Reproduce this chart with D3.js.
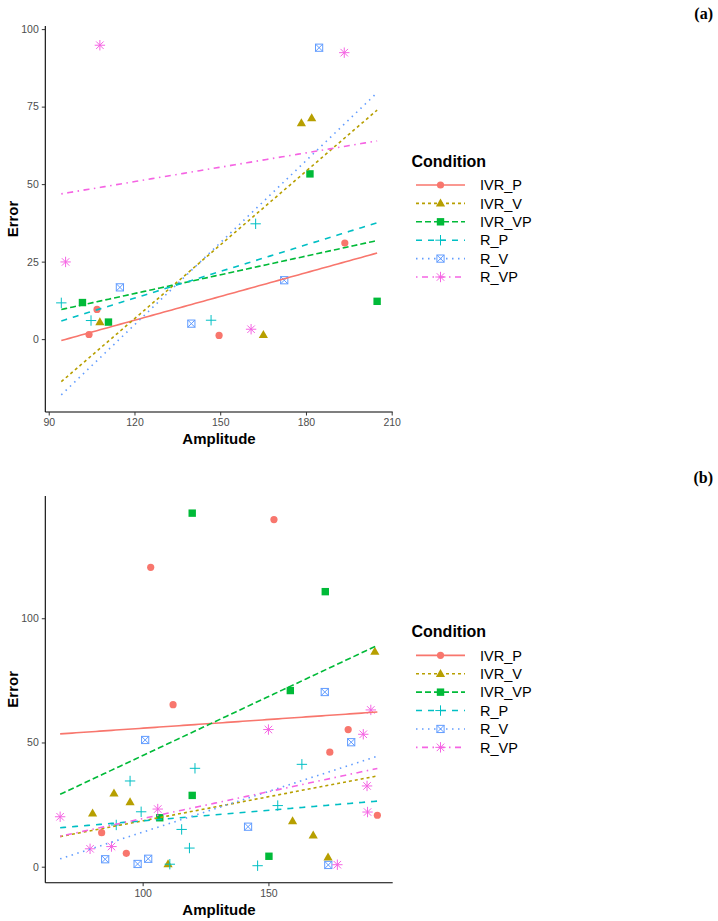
<!DOCTYPE html>
<html>
<head>
<meta charset="utf-8">
<script src="https://cdn.jsdelivr.net/npm/d3@7"></script>
<style>
  html, body { margin: 0; padding: 0; background: #fff; }
  svg { display: block; }
  text { font-family: "Liberation Sans", Arial, sans-serif; }
</style>
</head>
<body>
<svg id="chart" width="718" height="921"></svg>
<script>
// ---------- categories & styles ----------
const conditions = ["IVR_P", "IVR_V", "IVR_VP", "R_P", "R_V", "R_VP"];
const condColors = ["#F8766D", "#B79F00", "#00BA38", "#00BFC4", "#619CFF", "#F564E3"];
const condShapes = ["circle", "triangle", "square", "plus", "squarecross", "asterisk"];
const condDash = ["", "3,3", "6,3", "6,6", "1.5,4.5", "1.5,4.5,6,4.5"];

// ---------- panel (a) data ----------
const aIVR_P_amp  = [104.1, 106.9, 149.6, 193.6];
const aIVR_P_err  = [1.5, 9.6, 1.2, 31.0];
const aIVR_V_amp  = [107.9, 165.1, 178.4, 182.0];
const aIVR_V_err  = [5.5, 1.4, 69.7, 71.3];
const aIVR_VP_amp = [101.8, 110.9, 181.4, 204.9];
const aIVR_VP_err = [11.8, 5.5, 53.3, 12.2];
const aR_P_amp    = [94.4, 104.8, 146.8, 162.4];
const aR_P_err    = [11.7, 6.0, 6.1, 37.2];
const aR_V_amp    = [114.9, 139.9, 172.4, 184.6];
const aR_V_err    = [16.7, 5.0, 19.0, 94.0];
const aR_VP_amp   = [95.9, 107.9, 160.8, 193.4];
const aR_VP_err   = [24.9, 94.8, 3.2, 92.4];

// ---------- panel (b) data ----------
const bIVR_P_amp  = [83.7, 93.5, 103.2, 112.1, 152.2, 174.4, 181.7, 193.3];
const bIVR_P_err  = [13.7, 5.4, 120.5, 65.2, 139.7, 46.1, 55.2, 20.7];
const bIVR_V_amp  = [80.1, 88.6, 95.0, 110.1, 159.6, 167.8, 173.7, 192.3];
const bIVR_V_err  = [21.5, 29.5, 26.0, 1.1, 18.4, 12.6, 3.8, 86.6];
const bIVR_VP_amp = [106.8, 119.7, 119.7, 150.2, 158.7, 172.6];
const bIVR_VP_err = [19.7, 28.7, 142.3, 4.2, 70.9, 110.7];
const bR_P_amp    = [89.5, 95.0, 99.4, 110.8, 115.5, 118.6, 120.8, 145.7, 153.7, 163.3];
const bR_P_err    = [16.8, 34.5, 22.1, 1.0, 15.0, 7.5, 39.6, 0.4, 24.6, 41.2];
const bR_V_amp    = [85.1, 98.0, 101.0, 102.2, 141.9, 172.4, 173.8, 182.9];
const bR_V_err    = [3.0, 1.1, 51.0, 3.2, 16.1, 70.3, 0.7, 50.1];
const bR_VP_amp   = [67.2, 79.1, 87.6, 106.0, 150.0, 177.4, 187.7, 189.2, 189.4, 190.7];
const bR_VP_err   = [20.1, 7.2, 8.1, 23.2, 55.2, 0.8, 53.3, 32.5, 22.0, 63.1];

// ---------- ticks ----------
const aXTicks = [90, 120, 150, 180, 210];
const aYTicks = [0, 25, 50, 75, 100];
const bXTicks = [100, 150];
const bYTicks = [0, 50, 100];

// ---------- layout ----------
const panels = [
  {
    label: "(a)", labelY: 19,
    series: [[aIVR_P_amp, aIVR_P_err], [aIVR_V_amp, aIVR_V_err], [aIVR_VP_amp, aIVR_VP_err],
             [aR_P_amp, aR_P_err], [aR_V_amp, aR_V_err], [aR_VP_amp, aR_VP_err]],
    xDomain: [88.8, 210.35], yDomain: [-23.5, 101],
    top: 26, bottom: 412, xTicks: aXTicks, yTicks: aYTicks
  },
  {
    label: "(b)", labelY: 483,
    series: [[bIVR_P_amp, bIVR_P_err], [bIVR_V_amp, bIVR_V_err], [bIVR_VP_amp, bIVR_VP_err],
             [bR_P_amp, bR_P_err], [bR_V_amp, bR_V_err], [bR_VP_amp, bR_VP_err]],
    xDomain: [61.3, 199.4], yDomain: [-6.44, 149.2],
    top: 496, bottom: 882.7, xTicks: bXTicks, yTicks: bYTicks
  }
];
const left = 45.3, right = 392.7;

const svg = d3.select("#chart");
svg.append("rect").attr("width", 718).attr("height", 921).attr("fill", "#fff");

function drawShape(g, shape, color, x, y) {
  if (shape === "circle") {
    g.append("circle").attr("cx", x).attr("cy", y).attr("r", 3.6).attr("fill", color);
  } else if (shape === "triangle") {
    const s = 9.2, h = s * Math.sqrt(3) / 2;
    g.append("path").attr("d", `M${x},${y - h * 0.6}L${x + s / 2},${y + h * 0.4}L${x - s / 2},${y + h * 0.4}Z`).attr("fill", color);
  } else if (shape === "square") {
    g.append("rect").attr("x", x - 3.7).attr("y", y - 3.7).attr("width", 7.4).attr("height", 7.4).attr("fill", color);
  } else if (shape === "plus") {
    const r = 5.2;
    g.append("path").attr("d", `M${x - r},${y}H${x + r}M${x},${y - r}V${y + r}`).attr("stroke", color).attr("stroke-width", 1).attr("fill", "none");
  } else if (shape === "squarecross") {
    const r = 3.6;
    g.append("rect").attr("x", x - r).attr("y", y - r).attr("width", 2 * r).attr("height", 2 * r)
      .attr("fill", "none").attr("stroke", color).attr("stroke-width", 1);
    g.append("path").attr("d", `M${x - r},${y - r}L${x + r},${y + r}M${x - r},${y + r}L${x + r},${y - r}`)
      .attr("stroke", color).attr("stroke-width", 1);
  } else if (shape === "asterisk") {
    const r = 5.2, d = r * 0.72;
    g.append("path").attr("d", `M${x - r},${y}H${x + r}M${x},${y - r}V${y + r}M${x - d},${y - d}L${x + d},${y + d}M${x - d},${y + d}L${x + d},${y - d}`)
      .attr("stroke", color).attr("stroke-width", 1).attr("fill", "none");
  }
}

function linFit(xs, ys) {
  const mx = d3.mean(xs), my = d3.mean(ys);
  let sxy = 0, sxx = 0;
  xs.forEach((x, i) => { sxy += (x - mx) * (ys[i] - my); sxx += (x - mx) * (x - mx); });
  const b = sxy / sxx;
  return x => my + b * (x - mx);
}

panels.forEach(p => {
  const x = d3.scaleLinear().domain(p.xDomain).range([left, right]);
  const y = d3.scaleLinear().domain(p.yDomain).range([p.bottom, p.top]);
  const g = svg.append("g");

  // axes
  const xAxis = g.append("g").attr("transform", `translate(0,${p.bottom})`)
    .call(d3.axisBottom(x).tickValues(p.xTicks).tickSize(3.5).tickSizeOuter(0).tickPadding(3));
  const yAxis = g.append("g").attr("transform", `translate(${left},0)`)
    .call(d3.axisLeft(y).tickValues(p.yTicks).tickSize(3.5).tickSizeOuter(0).tickPadding(3));
  [xAxis, yAxis].forEach(a => {
    a.select(".domain").attr("stroke", "#000").attr("stroke-width", 1.1);
    a.selectAll(".tick line").attr("stroke", "#333").attr("stroke-width", 1);
    a.selectAll(".tick text").attr("fill", "#4D4D4D").style("font-size", "10.5px")
      .style("font-family", "'Liberation Sans', Arial, sans-serif");
  });
  yAxis.select(".domain").attr("d", `M0,${p.top}V${p.bottom}`);
  xAxis.select(".domain").attr("d", `M${left},0H${right}`);

  // points
  const pg = g.append("g");
  p.series.forEach((s, i) => {
    s[0].forEach((v, j) => drawShape(pg, condShapes[i], condColors[i], x(v), y(s[1][j])));
  });

  // regression lines over full data range
  const allX = p.series.flatMap(s => s[0]);
  const x0 = d3.min(allX), x1 = d3.max(allX);
  const lg = g.append("g");
  p.series.forEach((s, i) => {
    const f = linFit(s[0], s[1]);
    const pts = d3.range(0, 81).map(k => x0 + (x1 - x0) * k / 80);
    lg.append("path")
      .attr("d", d3.line().x(d => x(d)).y(d => y(f(d)))(pts))
      .attr("fill", "none").attr("stroke", condColors[i]).attr("stroke-width", 1.6)
      .attr("stroke-dasharray", condDash[i] || null);
  });

  // axis titles
  g.append("text").attr("x", (left + right) / 2).attr("y", p.bottom + 32)
    .attr("text-anchor", "middle").style("font-weight", "bold").style("font-size", "15px").attr("fill", "#000")
    .text("Amplitude");
  const cy = (p.top + p.bottom) / 2;
  g.append("text").attr("transform", `translate(18,${cy}) rotate(-90)`)
    .attr("text-anchor", "middle").style("font-weight", "bold").style("font-size", "15px").attr("fill", "#000")
    .text("Error");

  // legend
  const legTop = cy - 58;
  const leg = g.append("g");
  leg.append("text").attr("x", 411.5).attr("y", legTop + 5.5).style("font-weight", "bold").style("font-size", "16px")
    .attr("fill", "#000").text("Condition");
  conditions.forEach((c, i) => {
    const ry = legTop + 24 + i * 18.4;
    leg.append("line").attr("x1", 416).attr("x2", 465).attr("y1", ry).attr("y2", ry)
      .attr("stroke", condColors[i]).attr("stroke-width", 1.6).attr("stroke-dasharray", condDash[i] || null);
    drawShape(leg, condShapes[i], condColors[i], 440.5, ry);
    leg.append("text").attr("x", 480).attr("y", ry + 5.2).style("font-size", "14.5px").attr("fill", "#000").text(c);
  });

  // panel label
  svg.append("text").attr("x", 713).attr("y", p.labelY).attr("text-anchor", "end")
    .style("font-family", "'Liberation Serif', 'DejaVu Serif', serif").style("font-weight", "bold").style("font-size", "16px")
    .attr("fill", "#000").text(p.label);
});
</script>
</body>
</html>
